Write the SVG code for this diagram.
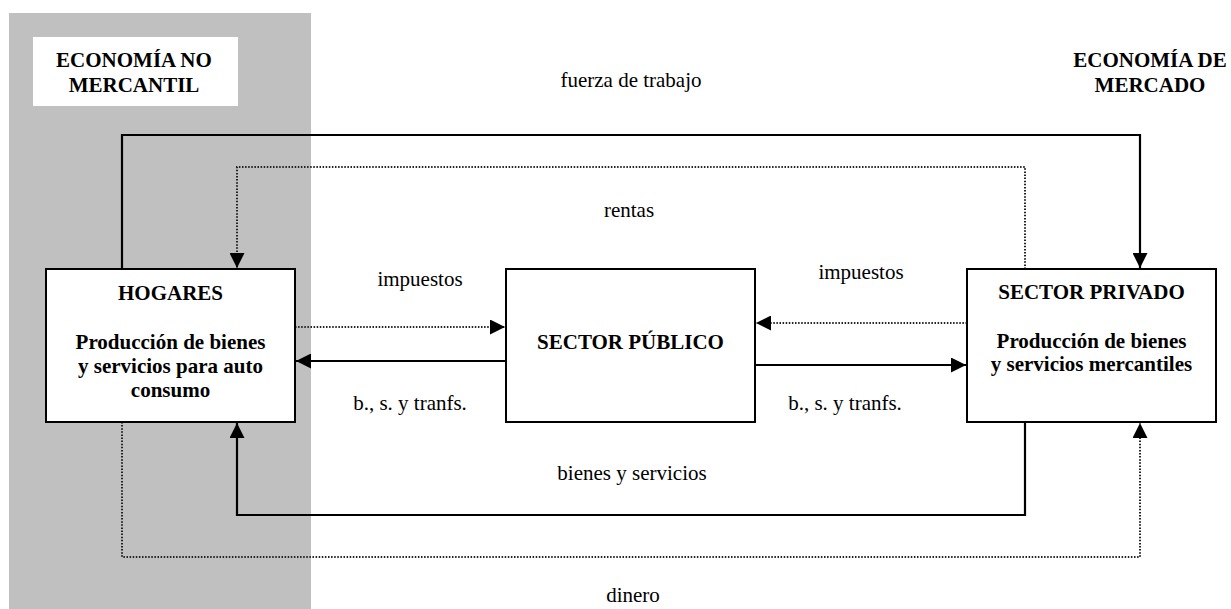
<svg xmlns="http://www.w3.org/2000/svg" width="1231" height="609" viewBox="0 0 1231 609">
<style>
text{font-family:"Liberation Serif","Times New Roman",serif;font-size:21px;fill:#000;text-anchor:middle}
.b{font-weight:bold}
.box{fill:#fff;stroke:#000;stroke-width:2}
.s{fill:none;stroke:#000;stroke-width:2.2}
.d{fill:none;stroke:#222;stroke-width:2;stroke-dasharray:1.5 1.6}
</style>
<defs>
<marker id="ah" markerUnits="userSpaceOnUse" markerWidth="15" markerHeight="15" refX="15" refY="7.5" orient="auto">
<path d="M0,0 L15,7.5 L0,15 z" fill="#000"/>
</marker>
</defs>
<rect x="9" y="13" width="302" height="596" fill="#c0c0c0"/>
<g id="label-no-mercantil">
<rect x="33" y="37" width="205" height="69" fill="#fff"/>
<text class="b" x="134" y="67">ECONOMÍA NO</text>
<text class="b" x="134" y="92">MERCANTIL</text>
</g>
<g id="label-mercado">
<text class="b" x="1150" y="67">ECONOMÍA DE</text>
<text class="b" x="1150" y="92">MERCADO</text>
</g>
<g id="connectors">
<path class="s" d="M122,269 V135 H1140 V268" marker-end="url(#ah)"/>
<path class="d" d="M1025,269 V167 H237 V268" marker-end="url(#ah)"/>
<path class="d" d="M295,327 H505" marker-end="url(#ah)"/>
<path class="s" d="M506,361 H296" marker-end="url(#ah)"/>
<path class="d" d="M967,323 H756" marker-end="url(#ah)"/>
<path class="s" d="M755,365 H966" marker-end="url(#ah)"/>
<path class="s" d="M1025,422 V515 H237 V423" marker-end="url(#ah)"/>
<path class="d" d="M122,422 V557 H1140 V423" marker-end="url(#ah)"/>
<text x="631" y="87">fuerza de trabajo</text>
<text x="629" y="217">rentas</text>
<text x="420" y="286">impuestos</text>
<text x="861" y="279">impuestos</text>
<text x="410" y="410">b., s. y tranfs.</text>
<text x="845" y="410">b., s. y tranfs.</text>
<text x="632" y="480">bienes y servicios</text>
<text x="633" y="602">dinero</text>
</g>
<g id="hogares">
<rect class="box" x="46" y="269" width="249" height="153"/>
<text class="b" x="170.5" y="300">HOGARES</text>
<text class="b" x="170.5" y="349">Producción de bienes</text>
<text class="b" x="170.5" y="373">y servicios para auto</text>
<text class="b" x="170.5" y="397">consumo</text>
</g>
<g id="sector-publico">
<rect class="box" x="506" y="269" width="249" height="153"/>
<text class="b" x="630.5" y="349">SECTOR PÚBLICO</text>
</g>
<g id="sector-privado">
<rect class="box" x="967" y="269" width="249" height="153"/>
<text class="b" x="1091.5" y="299">SECTOR PRIVADO</text>
<text class="b" x="1091.5" y="348">Producción de bienes</text>
<text class="b" x="1091.5" y="371">y servicios mercantiles</text>
</g>
</svg>
